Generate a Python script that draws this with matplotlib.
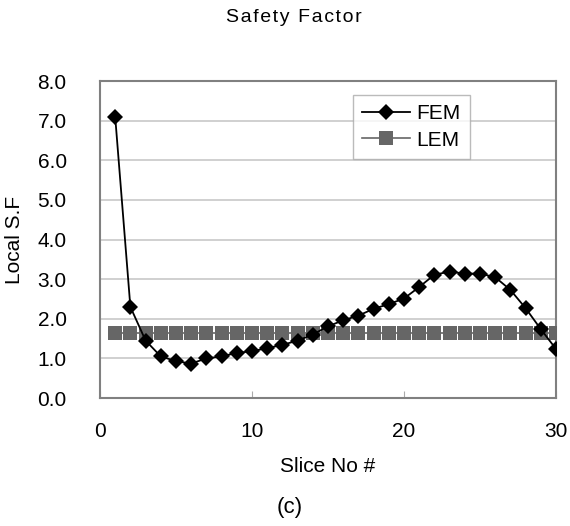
import matplotlib
matplotlib.use("Agg")
import matplotlib.pyplot as plt

plt.rcParams['font.family'] = ['Liberation Sans', 'DejaVu Sans']

slices = list(range(1, 31))
fem = [7.10, 2.30, 1.45, 1.05, 0.93, 0.87, 1.00, 1.05, 1.14, 1.18,
       1.26, 1.34, 1.45, 1.60, 1.81, 1.96, 2.08, 2.25, 2.37, 2.51,
       2.80, 3.11, 3.19, 3.14, 3.14, 3.05, 2.73, 2.27, 1.74, 1.24]
lem = [1.64] * 30
yticks = [0, 1, 2, 3, 4, 5, 6, 7, 8]
xticks = [0, 10, 20, 30]

fig = plt.figure(figsize=(5.7, 5.26), dpi=100)
ax = fig.add_axes([0.1754, 0.2433, 0.7999, 0.6027])

ax.plot(slices, lem, color='#666666', marker='s', markersize=10, markeredgewidth=0,
        linewidth=1.2, label='LEM', zorder=3)
ax.plot(slices, fem, color='black', marker='D', markersize=8, markeredgewidth=0,
        linewidth=1.3, label='FEM', zorder=4)

ax.set_xlim(0, 30)
ax.set_ylim(0, 8)
ax.set_yticks(yticks)
ax.set_yticklabels([f"{v:.1f}" for v in yticks])
ax.set_xticks(xticks)
ax.tick_params(axis='both', labelsize=15, colors='black')
ax.tick_params(axis='x', direction='in', length=5, color='#aaaaaa', pad=17)
ax.tick_params(axis='y', length=0, pad=24)
ax.grid(axis='y', color='#c8c8c8', linewidth=1.2)
ax.set_axisbelow(True)
for s in ax.spines.values():
    s.set_color('#808080')
    s.set_linewidth(1.5)

ax.set_xlabel('Slice No #', fontsize=15, labelpad=12)
ax.set_ylabel('Local S.F', fontsize=15, labelpad=10)

handles, labels = ax.get_legend_handles_labels()
leg = ax.legend(handles[::-1], labels[::-1], loc='upper left',
                bbox_to_anchor=(0.554, 0.956), borderaxespad=0, fontsize=15,
                frameon=True, fancybox=False, edgecolor='#aaaaaa',
                handlelength=2.3, borderpad=0.45, labelspacing=0.35,
                handletextpad=0.3)
leg.get_frame().set_linewidth(1.0)

title = '\u200a'.join('Safety Factor')
fig.text(0.516, 0.982, title, ha='center', va='top', fontsize=14)
fig.text(0.509, 0.036, '(c)', ha='center', va='center', fontsize=16)

fig.savefig('out.png', dpi=100)
